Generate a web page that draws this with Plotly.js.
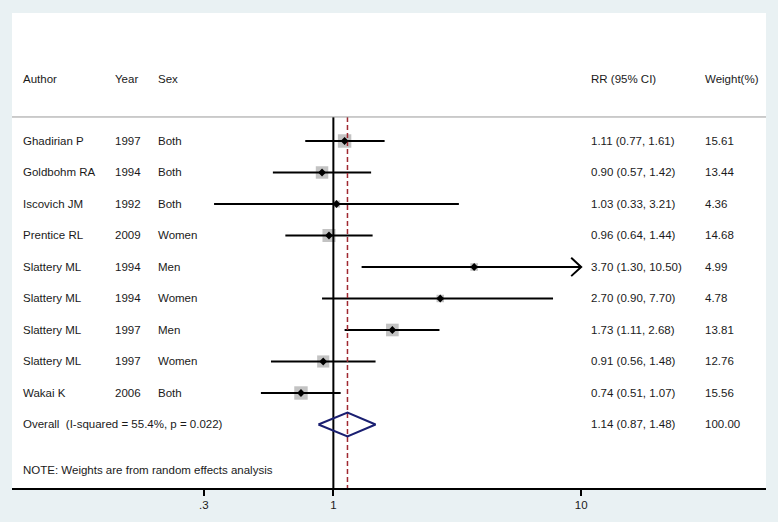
<!DOCTYPE html>
<html>
<head>
<meta charset="utf-8">
<script src="https://cdn.plot.ly/plotly-3.0.1.min.js"></script>
<style>html,body{margin:0;padding:0;background:#e9f1f3;}#chart{width:778px;height:522px;}</style>
</head>
<body>
<div id="chart"></div>
<script>
// ---- data ----
const authors = ["Ghadirian P","Goldbohm RA","Iscovich JM","Prentice RL","Slattery ML","Slattery ML","Slattery ML","Slattery ML","Wakai K"];
const years   = ["1997","1994","1992","2009","1994","1994","1997","1997","2006"];
const sexes   = ["Both","Both","Both","Women","Men","Women","Men","Women","Both"];
const rr      = [1.11, 0.90, 1.03, 0.96, 3.70, 2.70, 1.73, 0.91, 0.74];
const lower   = [0.77, 0.57, 0.33, 0.64, 1.30, 0.90, 1.11, 0.56, 0.51];
const upper   = [1.61, 1.42, 3.21, 1.44, 10.50, 7.70, 2.68, 1.48, 1.07];
const weights = [15.61, 13.44, 4.36, 14.68, 4.99, 4.78, 13.81, 12.76, 15.56];
const overall = {rr: 1.14, lo: 0.87, hi: 1.48, weight: 100.00, label: "Overall  (I-squared = 55.4%, p = 0.022)"};
const tickVals = [0.3, 1, 10];
const tickText = [".3", "1", "10"];
const headers = ["Author", "Year", "Sex", "RR (95% CI)", "Weight(%)"];
const note = "NOTE: Weights are from random effects analysis";
const xMax = 10;

// ---- layout helpers ----
const n = rr.length;
const rows = rr.map((_, i) => i);
const overallRow = n;
const headerRow = -1.968, sepRow = -0.762, noteRow = 10.44;
const yTop = -4.063, yBot = 11.016;
const fmt = v => v.toFixed(2);

const traces = [];
// weight boxes
traces.push({x: rr, y: rows, mode: 'markers', type: 'scatter', hoverinfo: 'skip',
  marker: {symbol: 'square', color: '#a9a9a9', size: weights.map(w => 3.4*Math.sqrt(w)), line: {width: 0}}});
// CI lines
const cx = [], cy = [];
rr.forEach((v, i) => { cx.push(lower[i], Math.min(upper[i], xMax), null); cy.push(i, i, null); });
traces.push({x: cx, y: cy, mode: 'lines', type: 'scatter', hoverinfo: 'skip', line: {color: '#000', width: 2}});
// arrows for truncated CIs
const ax = [], ay = [];
rr.forEach((v, i) => { if (upper[i] > xMax) { ax.push(xMax/1.097, xMax, xMax/1.097, null); ay.push(i-0.29, i, i+0.29, null); } });
traces.push({x: ax, y: ay, mode: 'lines', type: 'scatter', hoverinfo: 'skip', line: {color: '#000', width: 2}});
// null line
traces.push({x: [1, 1], y: [sepRow, yBot], mode: 'lines', type: 'scatter', hoverinfo: 'skip', line: {color: '#000', width: 2}});
// overall dashed line
traces.push({x: [overall.rr, overall.rr], y: [sepRow, yBot], mode: 'lines', type: 'scatter', hoverinfo: 'skip', line: {color: '#a02830', width: 1.5, dash: '5px,3px'}});
// point estimates
traces.push({x: rr, y: rows, mode: 'markers', type: 'scatter', hoverinfo: 'skip',
  marker: {symbol: 'diamond', color: '#000', size: 6}});
// overall diamond
traces.push({x: [overall.lo, overall.rr, overall.hi, overall.rr, overall.lo],
  y: [overallRow, overallRow-0.38, overallRow, overallRow+0.38, overallRow],
  mode: 'lines', type: 'scatter', hoverinfo: 'skip', line: {color: '#1a1f71', width: 2}});

const px = p => (p - 12) / 754;
const colX = [px(21), px(113), px(156), px(589), px(703)];
const font = {family: 'Arial, "Liberation Sans", sans-serif', size: 11.5, color: '#1a1a1a'};
const ann = [];
const addText = (x, y, t) => ann.push({xref: 'paper', yref: 'y', x: x, y: y, text: t, showarrow: false,
  xanchor: 'left', yanchor: 'middle', font: font});
headers.forEach((h, j) => addText(colX[j], headerRow, h));
rr.forEach((v, i) => {
  addText(colX[0], i, authors[i]);
  addText(colX[1], i, years[i]);
  addText(colX[2], i, sexes[i]);
  addText(colX[3], i, fmt(v) + " (" + fmt(lower[i]) + ", " + fmt(upper[i]) + ")");
  addText(colX[4], i, fmt(weights[i]));
});
addText(colX[0], overallRow, overall.label);
addText(colX[3], overallRow, fmt(overall.rr) + " (" + fmt(overall.lo) + ", " + fmt(overall.hi) + ")");
addText(colX[4], overallRow, fmt(overall.weight));
addText(colX[0], noteRow, note);

const layout = {
  width: 778, height: 522,
  margin: {l: 12, r: 12, t: 13, b: 34},
  paper_bgcolor: '#e9f1f3', plot_bgcolor: '#ffffff',
  showlegend: false,
  xaxis: {type: 'log', range: [-1.297, 1.746], showgrid: false, zeroline: false,
    tickvals: tickVals, ticktext: tickText, ticks: 'outside', ticklen: 6, tickwidth: 2, tickcolor: '#000',
    showline: true, linecolor: '#000', linewidth: 1.5, fixedrange: true,
    tickfont: {family: 'Arial, "Liberation Sans", sans-serif', size: 11.5, color: '#1a1a1a'}},
  yaxis: {range: [yBot, yTop], visible: false, showgrid: false, zeroline: false, fixedrange: true},
  shapes: [{type: 'line', xref: 'paper', yref: 'y', x0: 0, x1: 1, y0: sepRow, y1: sepRow,
    line: {color: '#999999', width: 1}}],
  annotations: ann
};
Plotly.newPlot('chart', traces, layout, {displayModeBar: false, staticPlot: true});
</script>
</body>
</html>
